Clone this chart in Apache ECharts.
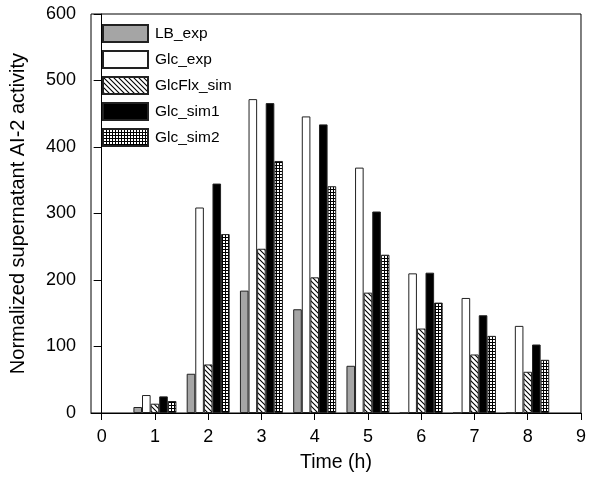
<!DOCTYPE html>
<html>
<head>
<meta charset="utf-8">
<script src="https://cdn.jsdelivr.net/npm/echarts@6/dist/echarts.min.js"></script>
<style>html,body{margin:0;padding:0;background:#fff}#c{width:589px;height:479px}</style>
</head>
<body>
<div id="c"></div>
<script>
const times = [1, 2, 3, 4, 5, 6, 7, 8];
const LB_exp = [9, 59, 184, 156, 71, 0, 0, 0];
const Glc_exp = [27, 309, 472, 446, 369, 210, 173, 131];
const GlcFlx_sim = [14, 73, 247, 204, 181, 127, 88, 62];
const Glc_sim1 = [25, 345, 466, 434, 303, 211, 147, 103];
const Glc_sim2 = [18, 269, 379, 341, 238, 166, 116, 80];
const xTicks = [0, 1, 2, 3, 4, 5, 6, 7, 8, 9];
const seriesNames = ['LB_exp', 'Glc_exp', 'GlcFlx_sim', 'Glc_sim1', 'Glc_sim2'];

function hatchPattern() {
  const s = 5, c = document.createElement('canvas');
  c.width = s; c.height = s;
  const g = c.getContext('2d');
  g.fillStyle = '#fff'; g.fillRect(0, 0, s, s);
  g.strokeStyle = '#000'; g.lineWidth = 1.1;
  g.beginPath();
  g.moveTo(-1, -1); g.lineTo(s + 1, s + 1);
  g.moveTo(-1, s - 1); g.lineTo(1, s + 1);
  g.moveTo(s - 1, -1); g.lineTo(s + 1, 1);
  g.stroke();
  return c;
}
function gridPattern() {
  const s = 3, c = document.createElement('canvas');
  c.width = s; c.height = s;
  const g = c.getContext('2d');
  g.fillStyle = '#fff'; g.fillRect(0, 0, s, s);
  g.fillStyle = '#000';
  g.fillRect(0, 0, s, 1);
  g.fillRect(0, 0, 1, s);
  return c;
}
const fills = [
  '#a5a5a5',
  '#ffffff',
  { image: hatchPattern(), repeat: 'repeat' },
  '#000000',
  { image: gridPattern(), repeat: 'repeat' }
];
const values = [LB_exp, Glc_exp, GlcFlx_sim, Glc_sim1, Glc_sim2];

const chart = echarts.init(document.getElementById('c'), null, { renderer: 'canvas' });
const font = 'Liberation Sans, Arial, Helvetica, sans-serif';
chart.setOption({
  animation: false,
  textStyle: { fontFamily: font },
  grid: { left: 91, right: 2, top: 14, bottom: 66, show: true, borderColor: '#000', borderWidth: 1, backgroundColor: 'transparent' },
  legend: {
    orient: 'vertical', left: 97, top: 19,
    icon: 'rect',
    itemWidth: 45, itemHeight: 17, itemGap: 7,
    textStyle: { fontSize: 15.5, color: '#000', fontFamily: font, padding: [0, 0, 0, 2] },
    data: seriesNames
  },
  xAxis: {
    type: 'value', min: -0.2, max: 9,
    name: 'Time (h)', nameLocation: 'middle', nameGap: 40,
    nameTextStyle: { fontSize: 19.5, color: '#000', fontFamily: font },
    axisLine: { show: true, lineStyle: { color: '#000', width: 1 } },
    axisTick: { show: true, inside: false, length: 7, lineStyle: { color: '#000' }, customValues: xTicks },
    axisLabel: { fontSize: 18, color: '#000', margin: 15, customValues: xTicks, fontFamily: font },
    splitLine: { show: false }
  },
  yAxis: {
    type: 'value', min: 0, max: 600, interval: 100,
    name: 'Normalized supernatant AI-2 activity', nameLocation: 'middle', nameGap: 63,
    nameTextStyle: { fontSize: 20, color: '#000', fontFamily: font },
    axisLine: { show: true, lineStyle: { color: '#000', width: 1 } },
    axisTick: { show: true, inside: false, length: 8, lineStyle: { color: '#000' } },
    axisLabel: { fontSize: 18, color: '#000', margin: 15, fontFamily: font },
    splitLine: { show: false }
  },
  series: seriesNames.map((n, i) => ({
    name: n, type: 'bar',
    barWidth: 8.6, barGap: '0%',
    itemStyle: { color: fills[i], borderColor: '#222', borderWidth: 1 },
    data: times.map((t, k) => [t, values[i][k]])
  }))
});
</script>
</body>
</html>
